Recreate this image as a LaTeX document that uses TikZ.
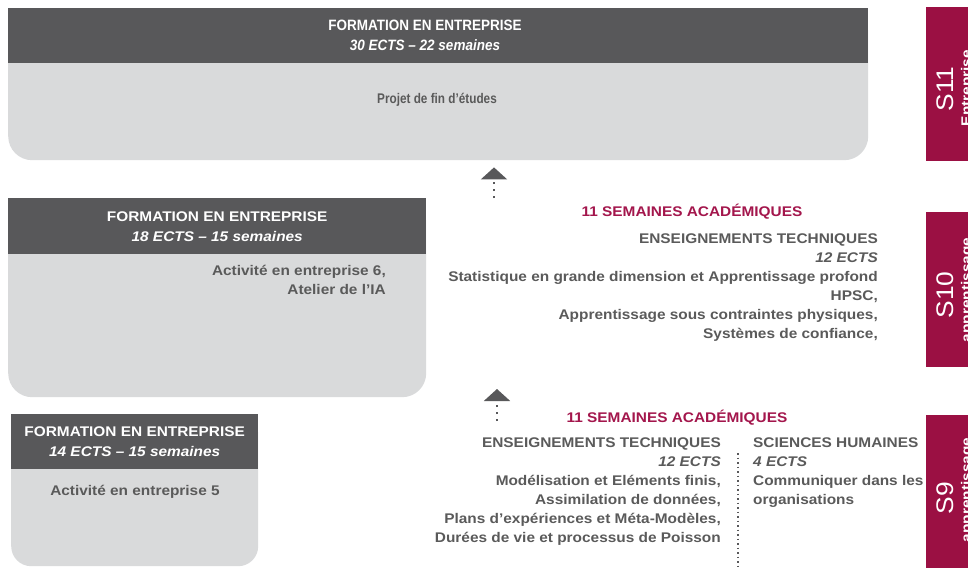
\documentclass[tikz,border=0pt]{standalone}
\usepackage{fontspec}
\setmainfont{Liberation Sans}[FakeStretch=1.1]
\newfontfamily\narrowsf{Liberation Sans}[FakeStretch=0.9]
\newfontfamily\narrowersf{Liberation Sans}[FakeStretch=0.84]
\usepackage{tikz}
\usetikzlibrary{arrows.meta}
\definecolor{headgray}{HTML}{58585A}
\definecolor{bodygray}{HTML}{D9DADB}
\definecolor{txtgray}{HTML}{5A5A5A}
\definecolor{tabclaret}{HTML}{9B1043}
\definecolor{weekclaret}{HTML}{A3164C}
\tikzset{
	body/.style    = {fill=bodygray, rounded corners=24pt, inner sep=0pt, anchor=north west},
	head/.style    = {fill=headgray, inner sep=0pt, anchor=north west, text=white,
		align=center, font=\bfseries\fontsize{14}{20}\selectfont},
	txt/.style     = {inner sep=0pt, text=txtgray, font=\bfseries\fontsize{14}{19}\selectfont},
	weeks/.style   = {inner sep=0pt, text=weekclaret, anchor=base,
		font=\bfseries\fontsize{14}{19}\selectfont},
	tab/.style     = {fill=tabclaret, inner sep=0pt, anchor=north west, minimum width=50pt},
	tabnum/.style  = {inner sep=0pt, text=white, rotate=90, anchor=base,
		font=\fontsize{24}{24}\selectfont},
	tabname/.style = {inner sep=0pt, text=white, rotate=90, anchor=base,
		font=\bfseries\fontsize{14}{14}\selectfont},
	upline/.style  = {draw=headgray, line width=2pt, dash pattern=on 2pt off 5pt,
		-{Triangle[width=26pt,length=12pt]}, headgray},
	sepline/.style = {draw=headgray, line width=1.5pt, dash pattern=on 1.5pt off 3pt}
}

\begin{document}
\begin{tikzpicture}[x=1pt, y=-1pt]
	\useasboundingbox (0,0) rectangle (968,567);
	
	% S11, last semester in the company
	\node[body, minimum width=860pt, minimum height=152pt] (b11) at (8,8) {};
	\node[head, minimum width=860pt, minimum height=55pt] (h11) at (8,8) {};
	\node[head, anchor=center, font=\narrowsf\bfseries\fontsize{15}{20}\selectfont] (f11) at (425,35)
		{FORMATION EN ENTREPRISE\\\textit{30 ECTS – 22 semaines}};
	\node[txt, font=\narrowersf\bfseries\fontsize{14}{16}\selectfont] (p11) at (437,100) {Projet de fin d’études};
	
	% S10, company part
	\node[body, minimum width=418pt, minimum height=199pt] (b10) at (8,198) {};
	\node[head, minimum width=418pt, minimum height=56pt] (h10) at (8,198)
		{FORMATION EN ENTREPRISE\\\textit{18 ECTS – 15 semaines}};
	\node[txt, align=right, anchor=north east] (a10) at (386,265)
		{Activité en entreprise 6,\\Atelier de l’IA};
	
	% S9, company part
	\node[body, minimum width=247pt, minimum height=152pt, rounded corners=20pt] (b9) at (11,414) {};
	\node[head, minimum width=247pt, minimum height=55pt] (h9) at (11,414)
		{FORMATION EN ENTREPRISE\\\textit{14 ECTS – 15 semaines}};
	\node[txt] (a9) at (135,492) {Activité en entreprise 5};
	
	% S10, school part
	\node[weeks] (w10) at (692,216) {11 SEMAINES ACADÉMIQUES};
	\node[txt, align=right, anchor=north east] (t10) at (878,234)
		{ENSEIGNEMENTS TECHNIQUES\\\textit{12 ECTS}\\
		Statistique en grande dimension et Apprentissage profond\\HPSC,\\
		Apprentissage sous contraintes physiques,\\Systèmes de confiance,};
	
	% S9, school part
	\node[weeks] (w9) at (677,422) {11 SEMAINES ACADÉMIQUES};
	\node[txt, align=right, anchor=north east] (t9) at (721,438)
		{ENSEIGNEMENTS TECHNIQUES\\\textit{12 ECTS}\\
		Modélisation et Eléments finis,\\Assimilation de données,\\
		Plans d’expériences et Méta-Modèles,\\Durées de vie et processus de Poisson};
	\node[txt, align=left, anchor=north west] (s9) at (753,438)
		{SCIENCES HUMAINES\\\textit{4 ECTS}\\Communiquer dans les\\organisations};
	\coordinate (sep9a) at (738,453);
	\coordinate (sep9b) at (738,566);
	\draw[sepline] (sep9a) -- (sep9b);
	
	% going up
	\coordinate (up10) at (494,198);
	\draw[upline, shorten >=7pt] (up10) -- (up10 |- b11.south);
	\coordinate (up9) at (497,421);
	\coordinate (to10) at (497,389);
	\draw[upline] (up9) -- (to10);
	
	% semester tabs
	\node[tab, minimum height=154pt] (tab11) at (926,7) {};
	\node[tabnum] (n11) at (953,89) {S11};
	\node[tabname] (l11) at (971,88) {Entreprise};
	\node[tab, minimum height=155pt] (tab10) at (926,212) {};
	\node[tabnum] (n10) at (953,295) {S10};
	\node[tabname] (l10) at (971,290) {apprentissage};
	\node[tab, minimum height=160pt] (tab9) at (926,415) {};
	\node[tabnum] (n9) at (953,498) {S9};
	\node[tabname] (l9) at (971,490) {apprentissage};
\end{tikzpicture}
\end{document}
